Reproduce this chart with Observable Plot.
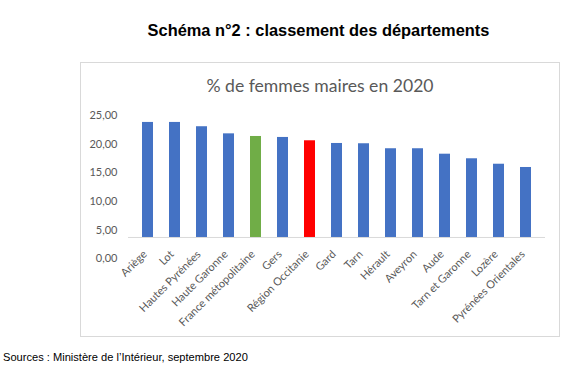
<!DOCTYPE html>
<html><head><meta charset="utf-8">
<script src="https://cdn.jsdelivr.net/npm/d3@7"></script>
<script src="https://cdn.jsdelivr.net/npm/@observablehq/plot@0.6"></script>
<style>
body{margin:0;background:#fff;}
#page{position:relative;width:576px;height:370px;overflow:hidden;background:#fff;}
#heading{position:absolute;left:61px;width:515px;top:21px;text-align:center;font:bold 16.4px "Liberation Sans",Arial,sans-serif;color:#000;line-height:18px;white-space:nowrap;}
#frame{position:absolute;left:80px;top:62px;width:478px;height:273px;border:1px solid #d9d9d9;}
#ctitle{position:absolute;left:0;width:100%;top:13px;text-align:center;font:17.6px Lato,sans-serif;color:#595959;line-height:20px;white-space:nowrap;}
#chart{position:absolute;left:0;top:0;}
#source{position:absolute;left:3px;top:350px;font:11.1px "Liberation Sans",Arial,sans-serif;line-height:14px;color:#000;white-space:nowrap;}
</style>
</head>
<body>
<div id="page">
  <div id="heading">Schéma n°2 : classement des départements</div>
  <div id="frame">
    <div id="ctitle">% de femmes maires en 2020</div>
    <div id="chart"></div>
  </div>
  <div id="source">Sources : Ministère de l’Intérieur, septembre 2020</div>
</div>
<script>
const categories = ["Ariège","Lot","Hautes Pyrénées","Haute Garonne","France métopolitaine","Gers","Région Occitanie","Gard","Tarn","Hérault","Aveyron","Aude","Tarn et Garonne","Lozère","Pyrénées Orientales"];
const values = [23.79,23.79,23.04,21.80,21.34,21.17,20.59,20.12,20.07,19.20,19.20,18.25,17.45,16.50,15.93];
const barColors = ["#4472C4","#4472C4","#4472C4","#4472C4","#70AD47","#4472C4","#FF0000","#4472C4","#4472C4","#4472C4","#4472C4","#4472C4","#4472C4","#4472C4","#4472C4"];
const yTicks = [0,5,10,15,20,25];
const axisCross = 3.72; // value where the category axis line crosses (as in the source chart)

const data = categories.map((c,i)=>({cat:c, value:values[i], color:barColors[i]}));
const fmt = d => d.toFixed(2).replace(".", ",");

const W = 478, H = 273;
const chart = Plot.plot({
  width: W, height: H,
  marginLeft: 47, marginRight: 14, marginTop: 40, marginBottom: 91,
  style: {fontFamily: "Lato, sans-serif", fontSize: "11px", color: "#595959", background: "transparent"},
  x: {domain: categories, range: [47, W - 14], paddingInner: 0.6, paddingOuter: 0.3, label: null},
  y: {domain: [0, 25], range: [195.3, 52], label: null},
  color: {type: "identity"},
  marks: [
    Plot.ruleY([axisCross], {stroke: "#d9d9d9", strokeWidth: 1}),
    Plot.barY(data, {x: "cat", y1: axisCross, y2: "value", fill: "color"}),
    Plot.axisY(yTicks, {anchor: "left", tickSize: 0, tickPadding: 11, tickFormat: fmt, label: null, fill: "#595959", fontSize: 11}),
    Plot.axisX({anchor: "bottom", tickSize: 0, tickPadding: 3, tickRotate: -45, label: null, fill: "#595959", fontSize: 11, dx: -3, dy: 4})
  ]
});
document.getElementById("chart").appendChild(chart);
</script>
</body></html>
